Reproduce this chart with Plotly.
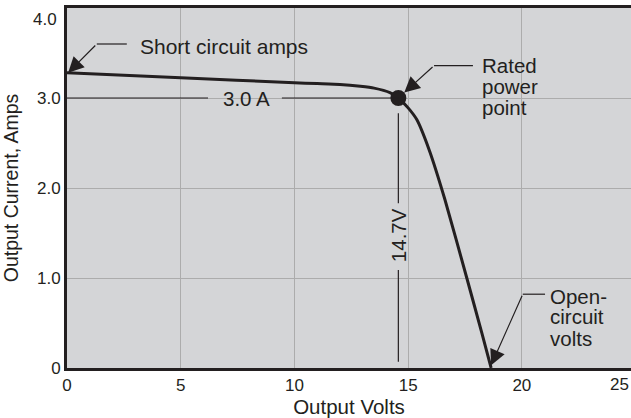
import plotly.graph_objects as go

# ---- data ----
volts = [0, 5, 10, 11, 12, 12.9, 13.5, 14.2, 14.57, 15.0, 15.38, 15.93, 16.62, 17.58, 18.24, 18.65]
amps = [3.28, 3.225, 3.17, 3.16, 3.15, 3.13, 3.11, 3.06, 3.0, 2.89, 2.76, 2.42, 1.87, 1.0, 0.39, 0.0]

rated_v = [14.57]
rated_i = [3.0]
voc = 18.65
isc = 3.28

x_ticks = [0, 5, 10, 15, 20, 25]
x_tick_labels = ["0", "5", "10", "15", "20", "25"]
y_ticks = [0, 1, 2, 3, 4]
y_tick_labels = ["0", "1.0", "2.0", "3.0", "4.0"]

INK = "#231f20"
BG = "#d4d5d7"
GRID = "#acacac"
FONT = "Liberation Sans, Arial, sans-serif"
ANN = 20.5
TICK = 17

fig = go.Figure()

fig.add_trace(go.Scatter(
    x=volts, y=amps, mode="lines",
    line=dict(color=INK, width=3, shape="spline", smoothing=0.5),
    hoverinfo="skip", showlegend=False,
))
fig.add_trace(go.Scatter(
    x=rated_v, y=rated_i, mode="markers",
    marker=dict(color=INK, size=16),
    hoverinfo="skip", showlegend=False,
))

rv = rated_v[0]
ri = rated_i[0]

# dimension lines
thin = dict(color=INK, width=1.2)
shapes = [
    dict(type="line", xref="x", yref="y", x0=0, x1=6.2, y0=ri, y1=ri, line=thin),
    dict(type="line", xref="x", yref="y", x0=9.45, x1=rv, y0=ri, y1=ri, line=thin),
    dict(type="line", xref="x", yref="y", x0=rv, x1=rv, y0=2.83, y1=1.83, line=thin),
    dict(type="line", xref="x", yref="y", x0=rv, x1=rv, y0=1.09, y1=0.07, line=thin),
    # leader horizontals
    dict(type="line", xref="x", yref="y", x0=1.31, x1=2.63, y0=3.6, y1=3.6, line=thin),
    dict(type="line", xref="x", yref="y", x0=16.14, x1=17.85, y0=3.36, y1=3.36, line=thin),
    dict(type="line", xref="x", yref="y", x0=20.04, x1=21.02, y0=0.82, y1=0.82, line=thin),
]

arrow_common = dict(showarrow=True, arrowhead=2, arrowsize=2.6, arrowwidth=1.2,
                    arrowcolor=INK, text="", xref="x", yref="y", axref="x", ayref="y")
annotations = [
    dict(x=0.05, y=isc, ax=1.31, ay=3.6, **arrow_common),
    dict(x=rv, y=ri, ax=16.14, ay=3.36, standoff=8, **arrow_common),
    dict(x=voc, y=0.03, ax=20.04, ay=0.82, **arrow_common),
]

def txt(text, x, y, xanchor="left", angle=0, xref="x", yref="y", size=ANN, yanchor="middle", **kw):
    d = dict(text=text, x=x, y=y, xref=xref, yref=yref, showarrow=False,
             xanchor=xanchor, yanchor=yanchor, textangle=angle,
             font=dict(family=FONT, size=size, color=INK))
    d.update(kw)
    return d

annotations += [
    txt("Short circuit amps", 3.12, 3.57, size=21),
    txt("3.0 A", 7.9, ri, xanchor="center"),
    txt("14.7V", rv, 1.48, xanchor="center", angle=-90),
    txt("Rated", 18.16, 3.36),
    txt("power", 18.16, 3.13),
    txt("point", 18.16, 2.90),
    txt("Open-", 21.17, 0.80),
    txt("circuit", 21.17, 0.567),
    txt("volts", 21.17, 0.333),
    # last tick labels, nudged inside the figure like the reference
    txt(x_tick_labels[-1], 1, 0, xanchor="right", xref="paper", yref="paper",
        size=TICK, yanchor="top", yshift=-5),
    txt(y_tick_labels[-1], 0, y_ticks[-1], xanchor="right", xref="paper", yref="y",
        size=TICK, xshift=-8, yshift=-11),
]

fig.update_layout(
    width=631, height=418,
    margin=dict(l=67, r=0, t=8, b=50),
    paper_bgcolor="white", plot_bgcolor=BG,
    font=dict(family=FONT, size=TICK, color=INK),
    shapes=shapes, annotations=annotations,
    showlegend=False,
)
fig.update_xaxes(
    range=[0, 24.8], tickvals=x_ticks[:-1], ticktext=x_tick_labels[:-1],
    showgrid=True, gridcolor=GRID, gridwidth=1, zeroline=False,
    showline=True, linewidth=3, linecolor=INK, mirror=True,
    ticks="", tickfont=dict(size=TICK), automargin=False,
    title=dict(text="Output Volts", font=dict(size=ANN), standoff=3),
)
fig.update_yaxes(
    range=[0, 4], tickvals=y_ticks[:-1], ticktext=y_tick_labels[:-1],
    showgrid=True, gridcolor=GRID, gridwidth=1, zeroline=False,
    showline=True, linewidth=3, linecolor=INK, mirror=False,
    ticks="", tickfont=dict(size=TICK), automargin=False,
    title=dict(text="Output Current, Amps", font=dict(size=19.5), standoff=14),
)

fig.write_html("out.html", config={"displayModeBar": False},
               post_script="document.body.style.margin='0';document.body.style.overflow='hidden';")
